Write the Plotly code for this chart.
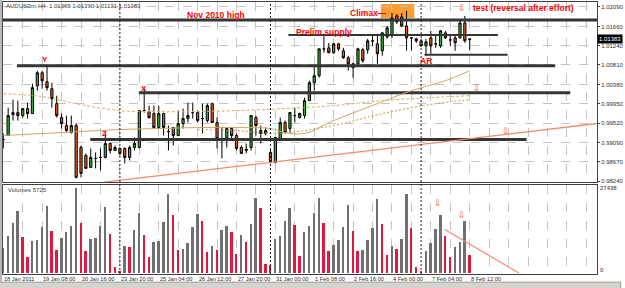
import plotly.graph_objects as go

# ---------------- data ----------------
bars = list(range(97))
opens = [0.99164,0.99252,0.99714,0.99758,0.99692,0.99846,0.99736,1.00352,1.00638,1.00440,
         1.00286,0.99956,0.99648,0.99472,0.99318,0.99472,0.98988,0.98812,0.98548,0.98746,
         0.98768,0.98768,0.99076,0.98922,0.98966,0.98966,0.98768,0.98988,0.98988,0.99802,
         0.99780,0.99736,0.99428,0.99736,0.99340,0.99428,0.99252,0.99516,0.99626,0.99758,
         0.99758,0.99626,0.99582,0.99956,0.99538,0.99186,0.99208,0.99406,0.99252,0.98988,
         0.98922,0.98988,0.99648,0.99362,0.99296,0.98878,0.98658,0.99186,0.99538,0.99406,
         0.99692,0.99648,0.99692,1.00022,1.00418,1.00572,1.01166,1.01188,1.01078,1.01276,
         1.01122,1.00968,1.00748,1.00836,1.01144,1.01144,1.01342,1.01276,1.01122,1.01430,
         1.01452,1.01892,1.01870,1.01672,1.01408,1.01386,1.01342,1.01232,1.01408,1.01276,
         1.01232,1.01518,1.01364,1.01408,1.01408,1.01738,1.01369]
highs = [0.99296,0.99868,1.00044,1.00022,0.99846,0.99978,1.00396,1.00682,1.00682,1.00792,
         1.00418,1.00132,0.99736,0.99692,0.99692,0.99516,0.99032,0.98856,0.98966,0.98878,
         0.98966,0.99296,0.99098,0.99032,0.98988,0.98988,0.99032,0.99208,0.99802,1.00286,
         0.99912,0.99912,0.99912,0.99758,0.99472,0.99428,0.99802,0.99846,0.99978,0.99978,
         0.99802,0.99956,0.99956,0.99978,0.99648,0.99428,0.99428,0.99428,0.99296,0.99032,
         0.99076,0.99692,0.99692,0.99472,0.99428,0.98966,0.99208,0.99648,0.99582,0.99758,
         0.99868,0.99758,1.00088,1.00462,1.00792,1.01166,1.01496,1.01298,1.01298,1.01298,
         1.01188,1.01012,1.00858,1.01188,1.01188,1.01386,1.01496,1.01496,1.01540,1.01672,
         1.01958,1.01936,1.01958,1.02002,1.01430,1.01408,1.01386,1.01386,1.01562,1.01496,
         1.01584,1.01562,1.01452,1.01452,1.01826,1.01892,1.01390]
lows = [0.98966,0.99252,0.99582,0.99582,0.99648,0.99626,0.99736,1.00242,1.00286,1.00242,
        0.99868,0.99648,0.99406,0.99318,0.99296,0.98306,0.98328,0.98526,0.98548,0.98526,
        0.98482,0.98746,0.98856,0.98922,0.98812,0.98636,0.98702,0.98922,0.98966,0.99758,
        0.99626,0.99406,0.99406,0.99252,0.98922,0.99032,0.99252,0.99406,0.99538,0.99626,
        0.99538,0.99296,0.99538,0.99538,0.98966,0.98746,0.98988,0.99186,0.98922,0.98856,
        0.98856,0.98922,0.99252,0.99076,0.99252,0.98636,0.98636,0.99186,0.99296,0.99318,
        0.99538,0.99626,0.99626,1.00022,1.00242,1.00528,1.01078,1.01078,1.01056,1.01122,
        1.00946,1.00682,1.00528,1.00792,1.00858,1.01056,1.01232,1.00836,1.01012,1.01386,
        1.01408,1.01716,1.01650,1.01122,1.01122,1.01298,1.01210,1.01012,1.01056,1.01188,
        1.01188,1.01386,1.01232,1.01122,1.01386,1.01298,1.01131]
closes = [0.99164,0.99692,0.99758,0.99692,0.99846,0.99736,1.00308,1.00638,1.00462,1.00308,
          1.00066,0.99692,0.99516,0.99362,0.99472,0.98328,0.98416,0.98526,0.98768,0.98746,
          0.98768,0.99076,0.98922,0.98988,0.98856,0.98768,0.98988,0.99076,0.99802,0.99802,
          0.99648,0.99428,0.99736,0.99428,0.99340,0.99252,0.99516,0.99626,0.99692,0.99758,
          0.99582,0.99626,0.99912,0.99538,0.99186,0.99186,0.99406,0.99252,0.98966,0.98856,
          0.98944,0.99692,0.99472,0.99296,0.99362,0.98658,0.99208,0.99538,0.99318,0.99758,
          0.99692,0.99736,1.00022,1.00418,1.00572,1.01166,1.01166,1.01078,1.01276,1.01166,
          1.00968,1.00836,1.00836,1.01166,1.00902,1.01342,1.01342,1.01056,1.01518,1.01628,
          1.01848,1.01760,1.01672,1.01408,1.01408,1.01342,1.01232,1.01320,1.01232,1.01276,
          1.01562,1.01408,1.01364,1.01298,1.01738,1.01342,1.01383]
volumes = [7970,11730,16250,20010,11510,5060,10120,10650,14850,21630,
           13560,7420,11190,13130,15170,27438,16250,6890,10870,11190,
           15280,21200,12590,1830,650,8720,8280,13880,19260,12270,
           4950,9790,10330,16460,25390,18830,7420,7750,9580,14740,
           18940,16790,6780,8720,7420,13880,15170,13340,6130,12270,
           10010,15820,24310,20980,2910,2370,10870,11730,16790,20870,
           15490,5270,13340,15170,19260,24110,16030,6890,9040,10650,
           14960,21950,13660,7100,7200,10650,14420,23780,15710,5810,
           8720,7750,10870,25500,14420,1720,430,7100,9580,14100,
           18720,11940,4950,8180,9900,16890,5810]

# moving averages (bar, price)
ma_slow_x = [0, 8, 16, 24, 32, 40, 48, 58, 68, 78, 88, 96]
ma_slow_y = [1.00176, 1.0011, 0.99934, 0.99802, 0.9978, 0.9978, 0.99802, 0.99846, 0.99912, 1.00022, 1.00088, 1.00132]
ma_mid_x = [0, 8, 16, 24, 32, 40, 48, 55, 58, 62, 68, 77, 84, 91, 96]
ma_mid_y = [0.99252, 0.99296, 0.9934, 0.99384, 0.99406, 0.99428, 0.99428, 0.99406, 0.99318, 0.99296, 0.99582, 0.99956, 1.00242, 1.00462, 1.00682]
ma_fast_x = [40, 48, 56, 68, 78, 89, 96]
ma_fast_y = [0.99384, 0.99362, 0.99296, 0.99472, 0.99736, 0.99956, 1.00044]

# support / resistance levels
level_price = [1.01804, 1.01474, 1.01034, 1.00792, 1.00198, 0.99164]
level_start = [-0.1, 58.7, 86.7, 2.8, 27.9, 17.9]
level_end = [122.3, 101.8, 103.8, 113.6, 116.7, 107.7]
level_width = [3, 2, 2, 3, 3, 3]

trend_x = [20.8, 122.3]
trend_y = [0.98222, 0.99518]
vol_trend_x = [90.8, 106.1]
vol_trend_y = [14200, 0]

week_starts = [24, 55, 86]
time_label_bars = [0, 8, 16, 24, 32, 40, 48, 56, 64, 72, 80, 88, 96]
time_labels = ["18 Jan 2011", "19 Jan 08:00", "20 Jan 16:00", "23 Jan 20:00", "25 Jan 04:00",
               "26 Jan 12:00", "27 Jan 20:00", "31 Jan 00:00", "1 Feb 08:00", "2 Feb 16:00",
               "4 Feb 00:00", "7 Feb 04:00", "8 Feb 12:00"]
price_ticks = [1.02090, 1.01660, 1.01240, 1.00810, 1.00380, 0.99950, 0.99520, 0.99090, 0.98670, 0.98240]
price_tick_text = ["1.02090", "1.01660", "1.01240", "1.00810", "1.00380", "0.99950", "0.99520", "0.99090", "0.98670", "0.98240"]
vol_max = 27438
last_price = 1.01383

# ---------------- styling ----------------
FONT = "Liberation Sans"
RED = "#ff0000"
ARROW = "#ff5a36"
LEVEL_COLOR = "#353535"
GRID = "#c4c4c4"

fig = go.Figure()

for p, s, e, w in zip(level_price, level_start, level_end, level_width):
    fig.add_trace(go.Scatter(x=[s, e], y=[p, p], mode="lines", line=dict(color=LEVEL_COLOR, width=w),
                             xaxis="x", yaxis="y", hoverinfo="skip", showlegend=False))
fig.add_trace(go.Scatter(x=trend_x, y=trend_y, mode="lines", line=dict(color="#f58a6a", width=1.4),
                         xaxis="x", yaxis="y", hoverinfo="skip", showlegend=False))
fig.add_trace(go.Scatter(x=ma_slow_x, y=ma_slow_y, mode="lines", line=dict(color="#d9ae62", width=1, dash="3px,2px", shape="spline"),
                         xaxis="x", yaxis="y", hoverinfo="skip", showlegend=False))
fig.add_trace(go.Scatter(x=ma_mid_x, y=ma_mid_y, mode="lines", line=dict(color="#d2a45c", width=1, shape="spline"),
                         xaxis="x", yaxis="y", hoverinfo="skip", showlegend=False))
fig.add_trace(go.Scatter(x=ma_fast_x, y=ma_fast_y, mode="lines", line=dict(color="#c99438", width=1, dash="2px,2px", shape="spline"),
                         xaxis="x", yaxis="y", hoverinfo="skip", showlegend=False))

fig.add_trace(go.Candlestick(
    x=bars, open=opens, high=highs, low=lows, close=closes,
    increasing=dict(line=dict(color="#000000", width=1), fillcolor="#35b335"),
    decreasing=dict(line=dict(color="#000000", width=1), fillcolor="#f25a21"),
    whiskerwidth=0, xaxis="x", yaxis="y", showlegend=False, hoverinfo="skip"))

vol_colors = ["#707070" if i == 0 or volumes[i] >= volumes[i - 1] else "#e3163f" for i in range(len(volumes))]
fig.add_trace(go.Bar(x=bars, y=volumes, marker=dict(color=vol_colors, line=dict(width=0)), width=0.4,
                     xaxis="x2", yaxis="y2", showlegend=False, hoverinfo="skip"))
fig.add_trace(go.Scatter(x=vol_trend_x, y=vol_trend_y, mode="lines", line=dict(color="#f58a6a", width=1.2),
                         xaxis="x2", yaxis="y2", hoverinfo="skip", showlegend=False))

shapes = []
shapes.append(dict(type="rect", xref="x", yref="y", x0=77.7, x1=84.6, y0=1.01848, y1=1.02156,
                   fillcolor="#f7941d", line=dict(width=0), opacity=0.9, layer="below"))
for w in week_starts:
    shapes.append(dict(type="line", xref="x", yref="paper", x0=w, x1=w, y0=0, y1=1,
                       line=dict(color="#202020", width=1, dash="2px,2px")))
shapes.append(dict(type="rect", xref="paper", yref="paper", x0=-0.006, x1=1.04, y0=-0.055, y1=-0.03,
                   fillcolor="#d6d3ce", line=dict(color="#9a9a9a", width=1)))
shapes.append(dict(type="rect", xref="paper", yref="paper", x0=-0.006, x1=-0.0015, y0=-0.03, y1=1.01,
                   fillcolor="#b8b8b8", line=dict(width=0)))

annotations = []
def txt(x, y, text, size=8.5, color=RED, xanchor="center", xref="x", yref="y", bold=True, family=FONT, **kw):
    annotations.append(dict(x=x, y=y, xref=xref, yref=yref, text=("<b>%s</b>" % text) if bold else text,
                            showarrow=False, xanchor=xanchor, yanchor="middle", borderpad=0,
                            font=dict(family=family, size=size, color=color), **kw))

txt(43.8, 1.01914, "Nov 2010 high")
txt(60.1, 1.0154, "Prelim supply", xanchor="left")
txt(71.2, 1.01958, "Climax\u2014", xanchor="left")
txt(96.5, 1.02068, "test (reversal after effort)", xanchor="left")
txt(87.1, 1.00902, "AR")
txt(8.5, 1.00924, "Y", size=8)
txt(28.9, 1.00286, "X", size=8)
txt(20.8, 0.99296, "Z", size=8)
for ax, ay, axr, ayr in [(94.4, 1.02068, "x", "y"), (97.5, 1.00308, "x", "y"), (103.4, 0.99362, "x", "y"),
                         (89.5, 22600, "x2", "y2"), (94.4, 18720, "x2", "y2")]:
    txt(ax, ay, "\u21e9", size=9, color=ARROW, xref=axr, yref=ayr, bold=False, family="DejaVu Sans")

txt(0.004, 0.985, "AUDUSDm,H4  1.01369 1.01390 1.01131 1.01383", size=6, color="#404040",
    xanchor="left", xref="paper", yref="paper", bold=False)
txt(0.0067, 0.308, "Volumes 5725", size=6, color="#404040", xanchor="left", xref="paper", yref="paper", bold=False)
# volume axis labels
txt(1.004, vol_max, str(vol_max), size=6, color="#303030", xanchor="left", xref="paper", yref="y2", bold=False)
txt(1.004, 0, "0", size=6, color="#303030", xanchor="left", xref="paper", yref="y2", bold=False, yshift=3)

for b, t in zip(time_label_bars, time_labels):
    annotations.append(dict(x=b, y=-0.017, xref="x2", yref="paper", text=t, showarrow=False,
                            xanchor="left", yanchor="middle", borderpad=0,
                            font=dict(family=FONT, size=5.6, color="#303030")))
annotations.append(dict(x=1.0, y=last_price, xref="paper", yref="y", text="1.01383", showarrow=False,
                        xanchor="left", yanchor="middle", bgcolor="#000000", borderpad=1,
                        font=dict(family=FONT, size=6, color="#ffffff")))

grid_vals = list(range(0, 124, 4))
axis_common = dict(range=[-0.06, 122.2], tickvals=grid_vals, showticklabels=False, showgrid=True,
                   gridcolor=GRID, griddash="dash", gridwidth=1, zeroline=False,
                   showline=True, linecolor="#404040", linewidth=1, mirror=True, ticks="")

fig.update_layout(
    width=625, height=288,
    margin=dict(l=3, r=23, t=1, b=14),
    paper_bgcolor="#ffffff", plot_bgcolor="#ffffff",
    showlegend=False, bargap=0, boxgap=0.35,
    xaxis=dict(domain=[0, 1], anchor="y", rangeslider=dict(visible=False), **axis_common),
    xaxis2=dict(domain=[0, 1], anchor="y2", matches="x", **axis_common),
    yaxis=dict(domain=[0.337, 1.0], range=[0.98218, 1.022], side="right", anchor="x",
               tickvals=price_ticks, ticktext=price_tick_text, showgrid=True, gridcolor=GRID,
               griddash="dash", zeroline=False, showline=True, linecolor="#404040", mirror=True,
               ticks="outside", ticklen=2, tickcolor="#404040",
               tickfont=dict(family=FONT, size=6, color="#303030")),
    yaxis2=dict(domain=[0.0, 0.326], range=[-320, 28400], side="right", anchor="x2",
                showticklabels=False, showgrid=False, zeroline=False,
                showline=True, linecolor="#404040", mirror=True, ticks=""),
    shapes=shapes, annotations=annotations,
)

fig.write_html("out.html")
